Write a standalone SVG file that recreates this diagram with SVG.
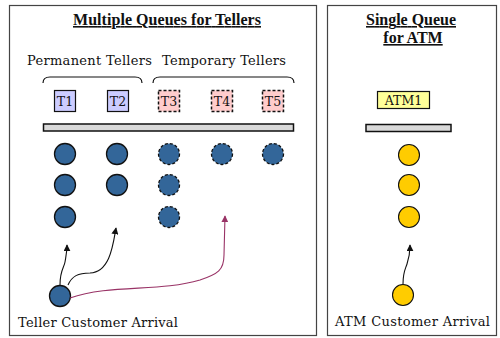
<svg xmlns="http://www.w3.org/2000/svg" width="500" height="338" viewBox="0 0 500 338">
<defs>
<style>
.panel{fill:#fff;stroke:#444;stroke-width:1.2}
.title{font-family:"Liberation Serif",serif;font-weight:bold;font-size:16px;text-decoration:underline;fill:#111}
.lbl{font-family:"DejaVu Serif","Liberation Serif",serif;font-size:13px;fill:#111}
.tl{font-family:"DejaVu Serif","Liberation Serif",serif;font-size:12.5px;fill:#111}
.perm{fill:#ccccff;stroke:#111;stroke-width:1.2}
.temp{fill:#ffcccc;stroke:#111;stroke-width:1.5;stroke-dasharray:3,2}
.bar{fill:#d9d9d9;stroke:#111;stroke-width:1.5}
.cust{fill:#336699;stroke:#111;stroke-width:1.3}
.custd{fill:#336699;stroke:#111;stroke-width:1.3;stroke-dasharray:3,2}
.atm{fill:#ffcc00;stroke:#111;stroke-width:1.1}
.brace{fill:none;stroke:#111;stroke-width:1.2}
.arr{fill:none;stroke:#111;stroke-width:1.1;marker-end:url(#ah)}
.arrm{fill:none;stroke:#993366;stroke-width:1.1;marker-end:url(#ahm)}
</style>
<marker id="ah" viewBox="0 0 10 10" refX="9" refY="5" markerWidth="7" markerHeight="7" orient="auto" markerUnits="userSpaceOnUse"><path d="M0,0 L10,5 L0,10 z" fill="#111"/></marker>
<marker id="ahm" viewBox="0 0 10 10" refX="9" refY="5" markerWidth="7" markerHeight="7" orient="auto" markerUnits="userSpaceOnUse"><path d="M0,0 L10,5 L0,10 z" fill="#993366"/></marker>
</defs>
<rect width="500" height="338" fill="#fff"/>
<g id="left-panel">
<rect class="panel" x="9.5" y="5.5" width="307" height="330"/>
<text class="title" x="167" y="25" text-anchor="middle" textLength="188">Multiple Queues for Tellers</text>
<text class="lbl" x="27" y="65" textLength="125">Permanent Tellers</text>
<text class="lbl" x="162" y="65" textLength="124">Temporary Tellers</text>
<path class="brace" d="M43,83 Q43,77 50,77 L135,77 Q142,77 142,83"/>
<path class="brace" d="M153,83 Q153,77 160,77 L287,77 Q294,77 294,83"/>
<rect class="bar" x="43.5" y="124" width="250" height="7"/>
</g>
<g id="T1"><rect class="perm" x="54.5" y="90.5" width="21" height="21"/><text class="tl" x="65" y="106" text-anchor="middle">T1</text></g>
<g id="T2"><rect class="perm" x="107.5" y="90.5" width="21" height="21"/><text class="tl" x="118" y="106" text-anchor="middle">T2</text></g>
<g id="T3"><rect class="temp" x="158.5" y="90.5" width="21" height="21"/><text class="tl" x="169" y="106" text-anchor="middle">T3</text></g>
<g id="T4"><rect class="temp" x="211.5" y="90.5" width="21" height="21"/><text class="tl" x="222" y="106" text-anchor="middle">T4</text></g>
<g id="T5"><rect class="temp" x="262.5" y="90.5" width="21" height="21"/><text class="tl" x="273" y="106" text-anchor="middle">T5</text></g>
<g id="teller-queues">
<circle class="cust" cx="65" cy="154" r="10.5"/>
<circle class="cust" cx="65" cy="185" r="10.5"/>
<circle class="cust" cx="65" cy="217" r="10.5"/>
<circle class="cust" cx="117" cy="154" r="10.5"/>
<circle class="cust" cx="117" cy="185" r="10.5"/>
<circle class="custd" cx="169" cy="154" r="10.5"/>
<circle class="custd" cx="169" cy="185" r="10.5"/>
<circle class="custd" cx="169" cy="217" r="10.5"/>
<circle class="custd" cx="222" cy="154" r="10.5"/>
<circle class="custd" cx="273" cy="154" r="10.5"/>
</g>
<g id="teller-arrival">
<circle class="cust" cx="60" cy="296" r="10.5"/>
<text class="lbl" x="18" y="327" textLength="160">Teller Customer Arrival</text>
</g>
<g id="right-panel">
<rect class="panel" x="327.5" y="5.5" width="169" height="330"/>
<text class="title" x="411" y="25" text-anchor="middle" textLength="90">Single Queue</text>
<text class="title" x="413" y="43" text-anchor="middle">for ATM</text>
<rect class="bar" x="366" y="124.5" width="85" height="7"/>
</g>
<g id="ATM1"><rect x="377.5" y="91.5" width="52" height="17" fill="#ffff99" stroke="#111" stroke-width="1.2"/><text class="tl" x="403.5" y="104.5" text-anchor="middle">ATM1</text></g>
<g id="atm-queue">
<circle class="atm" cx="409" cy="155" r="10.5"/>
<circle class="atm" cx="409" cy="185" r="10.5"/>
<circle class="atm" cx="409" cy="217" r="10.5"/>
</g>
<g id="atm-arrival">
<circle class="atm" cx="403" cy="295" r="10.5"/>
<text class="lbl" x="335" y="326" textLength="155">ATM Customer Arrival</text>
</g>
<g id="connectors">
<path class="arr" d="M60,285 C60,270 64,268 65,262 C66,256 67,252 67,245"/>
<path class="arr" d="M68,285 C72,276 78,273 90,273 C110,272 113,245 116,228"/>
<path class="arrm" d="M70,298 C110,284 160,292 200,280 C218,274 224,270 224,255 L225,216"/>
<path class="arr" d="M403,284 C403,272 405,270 407,264 C409,258 410,252 410,245"/>
</g>
</svg>
